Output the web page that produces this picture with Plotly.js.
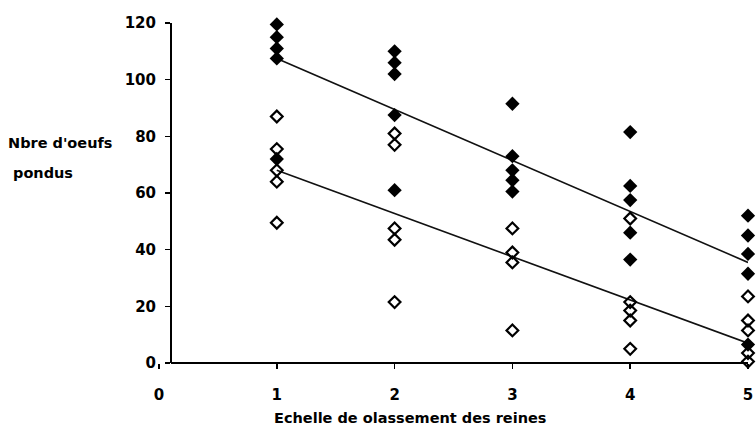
<!DOCTYPE html>
<html>
<head>
<meta charset="utf-8">
<script src="https://cdn.plot.ly/plotly-3.0.1.min.js"></script>
<style>html,body{margin:0;padding:0;background:#fff;}#chart{width:756px;height:436px;}</style>
</head>
<body>
<div id="chart"></div>
<script>
// Ranks (x) and number of eggs laid
const filledX = [1,1,1,1,1, 2,2,2,2,2, 3,3,3,3,3, 4,4,4,4,4, 5,5,5,5,5];
const filledY = [119.5,115,111,107.5,72, 110,106,102,87.5,61, 91.5,73,68,64.5,60.5, 81.5,62.5,57.5,46,36.5, 52,45,38.5,31.5,6.5];
const openX = [1,1,1,1,1, 2,2,2,2,2, 3,3,3,3, 4,4,4,4,4, 5,5,5,5,5];
const openY = [87,75.5,68,64,49.5, 81,77,47.5,43.5,21.5, 47.5,39,35.5,11.5, 51,21.5,18.5,15,5, 23.5,15,11.5,3.5,0.5];
// Fitted lines, endpoints
const lineX = [1, 5];
const upperLineY = [107.5, 35.5];
const lowerLineY = [68, 7];
const xTicks = [0,1,2,3,4,5];
const yTicks = [0,20,40,60,80,100,120];

const FONT = "DejaVu Sans";
const W = 756, H = 436;
const mL = 159, mR = 8, mT = 23, mB = 73;
const plotW = W - mL - mR;
const plotH = H - mT - mB;
const yAxisPx = 171;

const traces = [
  {x: lineX, y: upperLineY, mode: 'lines', line: {color: '#111', width: 1.6}, hoverinfo: 'skip'},
  {x: lineX, y: lowerLineY, mode: 'lines', line: {color: '#111', width: 1.6}, hoverinfo: 'skip'},
  {x: openX, y: openY, mode: 'markers', cliponaxis: false,
   marker: {symbol: 'diamond-open', size: 9, color: '#000', line: {width: 2.2, color: '#000'}}},
  {x: filledX, y: filledY, mode: 'markers', cliponaxis: false,
   marker: {symbol: 'diamond', size: 11, color: '#000', line: {width: 0}}}
];

const tf = {family: FONT, size: 15, color: '#000', weight: 'bold'};
const af = {family: FONT, size: 14.5, color: '#000', weight: 'bold'};

const layout = {
  width: W, height: H,
  margin: {l: mL, r: mR, t: mT, b: mB},
  paper_bgcolor: '#fff', plot_bgcolor: '#fff',
  showlegend: false,
  font: {family: FONT, size: 14, color: '#000'},
  xaxis: {
    range: [0, 5], tickvals: xTicks, ticktext: xTicks.map(String),
    showgrid: false, zeroline: false, showline: false,
    ticks: 'outside', ticklen: 5, tickwidth: 1.5, tickcolor: '#000',
    ticklabelstandoff: 13,
    tickfont: tf
  },
  yaxis: {
    range: [0, 120], tickvals: yTicks, ticktext: yTicks.map(String),
    anchor: 'free', position: (yAxisPx - mL) / plotW,
    showgrid: false, zeroline: false, showline: true, linecolor: '#000', linewidth: 2,
    ticks: 'outside', ticklen: 5, tickwidth: 1.5, tickcolor: '#000',
    ticklabelstandoff: 6,
    tickfont: tf
  },
  shapes: [
    {type: 'line', xref: 'paper', yref: 'paper', x0: (yAxisPx - mL) / plotW, x1: 1, y0: 0, y1: 0,
     line: {color: '#000', width: 2}}
  ],
  annotations: [
    {text: "Nbre d'oeufs", xref: 'paper', yref: 'paper', x: (6 - mL) / plotW, y: 1 - (143 - mT) / plotH,
     xanchor: 'left', yanchor: 'middle', showarrow: false, font: af},
    {text: "pondus", xref: 'paper', yref: 'paper', x: (11 - mL) / plotW, y: 1 - (173 - mT) / plotH,
     xanchor: 'left', yanchor: 'middle', showarrow: false, font: af},
    {text: "Echelle de olassement des reines", xref: 'paper', yref: 'paper', x: (410 - mL) / plotW, y: 1 - (418 - mT) / plotH,
     xanchor: 'center', yanchor: 'middle', showarrow: false, font: af}
  ]
};

Plotly.newPlot('chart', traces, layout, {displayModeBar: false, staticPlot: true});
</script>
</body>
</html>
